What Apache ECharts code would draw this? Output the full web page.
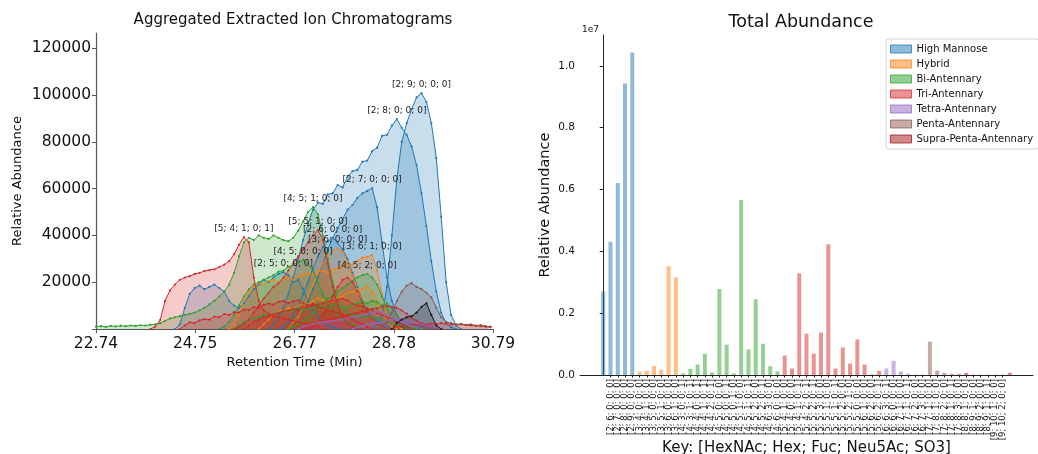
<!DOCTYPE html>
<html><head><meta charset="utf-8">
<script src="https://cdn.jsdelivr.net/npm/echarts@6/dist/echarts.min.js"></script>
<style>html,body{margin:0;padding:0;background:#fff}#c{width:1038px;height:454px}</style>
</head><body><div id="c"></div>
<script>
// ---------- Left chart: retention-time grid (min) ----------
const rt = [22.74,22.84,22.94,23.04,23.14,23.24,23.34,23.44,23.54,23.64,
23.74,23.84,23.94,24.04,24.14,24.24,24.34,24.44,24.54,24.64,
24.74,24.84,24.94,25.04,25.14,25.24,25.34,25.44,25.54,25.64,
25.74,25.84,25.94,26.04,26.14,26.24,26.34,26.44,26.54,26.64,
26.74,26.84,26.94,27.04,27.14,27.24,27.34,27.44,27.54,27.64,
27.74,27.84,27.94,28.04,28.14,28.24,28.34,28.44,28.54,28.64,
28.74,28.84,28.94,29.04,29.14,29.24,29.34,29.44,29.54,29.64,
29.74,29.84,29.94,30.04,30.14,30.24,30.34,30.44,30.54,30.64,
30.74];
const xTicks = [22.74, 24.75, 26.77, 28.78, 30.79];
const yTicks = [0, 20000, 40000, 60000, 80000, 100000, 120000];

// each XIC: values starting at an index of rt
const xic_2_5_0_0_0 = [0,2000,9000,15000,17500,18500,17000,18000,19000,17500,16000,12000,10000,9000,11000,14000,17000,19000,21000,20000,22000,23500,24300,23000,20000,21000,17000,12000,8000,5000,3000,1500,800,0];
const xic_2_6_0_0_0 = [0,1000,3000,6000,10000,15000,20000,26000,31000,35000,37500,38900,37000,34000,30000,24000,18000,12000,8000,5000,3000,1500,600,0];
const xic_2_7_0_0_0 = [0,3000,5000,8000,12000,17000,22000,28000,34000,39000,43000,47000,51000,53000,56000,58000,59000,60200,52000,37000,22000,12000,6000,3000,1000,0];
const xic_2_8_0_0_0 = [0,2000,5000,9000,15000,22000,30000,38000,45000,51000,54000,53500,57500,58000,61500,60500,65000,67500,68000,71500,72000,76000,77500,82500,83000,87000,89700,86000,83000,78000,70000,58000,44000,29000,16000,7000,2500,800,0];
const xic_2_9_0_0_0 = [0,2000,6000,18000,40000,64000,80000,88000,94000,99000,100800,97000,88000,73000,48000,20000,6000,1500,0];
const xic_3_6_0_0_0 = [0,3000,5000,9000,14000,19000,24000,28000,31000,33500,34600,33000,29000,23000,17000,11000,7000,4000,2000,800,0];
const xic_3_6_1_0_0 = [0,2000,6000,12000,16000,18000,19500,19000,20500,21000,20000,21500,22000,21000,22500,23000,24000,23000,24500,25000,24000,25500,26000,27000,28000,27500,29000,30500,30800,31600,25000,15000,6000,2500,1000,0];
const xic_hyb_low = [0,2000,4000,6000,7500,8000,9000,8500,10000,11000,10500,12000,13000,12500,11000,12000,13500,14000,15500,16000,15000,17000,18000,16000,12000,7000,3000,1000,0];
const xic_4_5_1_0_0 = [1000,1200,900,1300,1100,1400,1200,1500,1300,1600,1500,1800,2000,2500,3500,4500,5000,5500,6000,6500,7000,8000,9000,10500,12000,14000,16000,19000,24000,31000,37000,39000,38000,40000,39000,38500,40000,39000,38000,37500,39000,42000,46000,50000,52100,49000,40000,30000,20000,13000,9000,7000,6000,5500,5000,5500,5000,4500,4000,3000,2500,2000,1500,1000,800,500,0];
const xic_4_5_0_0_0 = [0,1000,3000,6000,10000,14000,17000,19000,20000,21000,22000,23000,24500,25000,26500,27500,28500,29500,28000,25000,20000,15000,11000,8000,6000,4000,3000,2000,1000,0];
const xic_4_5_2_0_0 = [0,1000,2000,3500,5000,7000,9000,11000,13000,14500,16000,17500,19000,20500,22000,23000,23500,22000,19000,14000,9000,5000,3000,1500,500,0];
const xic_bi_low = [0,1500,3000,4000,4500,5000,6000,5500,6500,7000,8000,7500,8500,9000,8000,8500,9500,10000,9000,9500,10500,10000,9000,9500,10500,11000,11500,11000,12000,11500,10000,11000,9000,6000,3000,1500,500,0];
const xic_5_4_1_0_1 = [0,1000,3800,12000,16500,19000,21000,22000,22600,23500,24000,24800,25200,25500,26500,27500,29000,32000,36000,39300,37000,22000,12000,8000,6500,5500,5000,4500,4000,3500,3000,2500,2000,1500,1000,0];
const xic_5_5_1_0_0 = [0,1000,2000,4000,7000,10000,13000,15500,18000,19500,22000,25000,28000,31000,34000,37000,40000,42300,38000,28000,18000,10000,5000,2500,1200,500,0];
const xic_tri_a = [0,1000,3000,6000,10000,14000,18000,21000,22000,20000,16000,11000,7000,4000,2000,1000,0];
const xic_tri_b = [0,1500,2800,2600,3700,4200,4000,5300,5100,6400,6000,7200,7000,8300,8100,9400,9000,10300,10900,10400,11600,12000,11000,11800,12300,11000,10200,10700,9300,9100,7800,7600,6800,6100,4800,4200,2900,2100,900,0];
const xic_tri_c = [0,1500,3200,3900,5100,5400,6200,6800,7700,7900,8600,8100,9200,9400,10100,10600,10900,11700,12100,12300,13000,12200,10800,10100,9600,8800,8100,6900,6100,4900,4100,2900,2100,900,0];
const xic_tri_d = [0,1000,2100,2900,3600,3900,4600,4900,5700,5900,6600,6900,7700,7900,8600,8800,9600,9900,9400,9100,7900,6600,4900,3600,2400,1600,900,500,0];
const xic_tri_e = [0,800,1200,1500,1800,2000,2200,2000,2300,2100,2500,2200,2000,1800,2000,1600,1500,1300,1200,1000,800];
const xic_tet_a = [0,1000,1500,2000,2600,3000,3300,3500,3900,4000,4600,5000,5400,6100,6400,7000,7500,7100,6000,5100,3900,3000,2000,1200,600,0];
const xic_tet_b = [0,800,1300,1700,2300,2500,3100,3400,3900,4000,3800,3400,3100,2400,2000,1400,1000,500,0];
const xic_pen_a = [0,1000,3000,7000,12000,16000,18500,19600,18000,17000,15500,13500,9000,5000,3000,2500,2000,2200,1800,2000,1500,1700,1200,1000];
const xic_sup_a = [0,2500,4000,5000,5500,7000,9500,11000,6000,1500,0];

// ---------- Right chart ----------
const groupNames = ['High Mannose','Hybrid','Bi-Antennary','Tri-Antennary','Tetra-Antennary','Penta-Antennary','Supra-Penta-Antennary'];
const glycanKeys = ['[2; 5; 0; 0; 0]','[2; 6; 0; 0; 0]','[2; 7; 0; 0; 0]','[2; 8; 0; 0; 0]','[2; 9; 0; 0; 0]',
'[3; 4; 0; 0; 0]','[3; 4; 1; 0; 0]','[3; 5; 0; 0; 0]','[3; 5; 1; 0; 0]','[3; 6; 0; 0; 0]','[3; 6; 1; 0; 0]',
'[4; 3; 0; 0; 1]','[4; 3; 1; 0; 1]','[4; 4; 0; 0; 1]','[4; 4; 1; 0; 1]','[4; 4; 2; 0; 1]','[4; 5; 0; 0; 0]','[4; 5; 0; 0; 1]','[4; 5; 0; 1; 0]','[4; 5; 1; 0; 0]','[4; 5; 1; 0; 1]','[4; 5; 2; 0; 0]','[4; 5; 2; 0; 1]','[4; 6; 3; 0; 0]','[4; 6; 0; 0; 0]',
'[5; 4; 1; 0; 0]','[5; 4; 0; 0; 0]','[5; 4; 1; 0; 1]','[5; 4; 2; 0; 1]','[5; 5; 2; 0; 1]','[5; 5; 3; 0; 0]','[5; 5; 1; 0; 0]','[5; 5; 1; 0; 1]','[5; 5; 2; 0; 0]','[5; 5; 2; 1; 0]','[5; 5; 0; 0; 0]','[5; 6; 1; 0; 0]','[5; 6; 2; 0; 0]','[5; 6; 2; 0; 1]',
'[6; 6; 3; 0; 1]','[6; 6; 0; 0; 0]','[6; 7; 1; 0; 0]','[6; 7; 1; 0; 1]','[6; 7; 2; 0; 0]','[6; 7; 3; 0; 0]',
'[7; 7; 1; 0; 0]','[7; 8; 1; 0; 0]','[7; 8; 2; 0; 0]','[7; 8; 1; 0; 1]','[7; 8; 3; 0; 0]',
'[8; 8; 1; 0; 0]','[8; 9; 1; 0; 0]','[8; 9; 2; 0; 0]','[8; 9; 1; 0; 1]','[9; 10; 1; 0; 0]','[9; 10; 2; 0; 0]','[9; 10; 1; 0; 1]'];
const hmAbund = [2.70e6, 4.31e6, 6.21e6, 9.43e6, 1.043e7];
const hybridAbund = [1.1e5, 1.4e5, 3.0e5, 1.7e5, 3.52e6, 3.16e6];
const biAbund = [5e4, 2.0e5, 3.4e5, 6.9e5, 8e4, 2.78e6, 9.8e5, 5e4, 5.66e6, 8.3e5, 2.45e6, 1.01e6, 2.8e5, 1.2e5];
const triAbund = [6.3e5, 2.1e5, 3.29e6, 1.34e6, 6.9e5, 1.37e6, 4.23e6, 2.1e5, 8.9e5, 3.7e5, 1.15e6, 3.4e5, 2e4, 1.4e5];
const tetraAbund = [2.1e5, 4.6e5, 1.1e5, 4e4, 1e4, 1e4];
const pentaAbund = [1.08e6, 1.4e5, 7e4, 4e4, 4e4];
const supraAbund = [7e4, 1e4, 1e4, 1e4, 1e4, 1e4, 7e4];
const rightYTicks = [0, 2e6, 4e6, 6e6, 8e6, 1e7];

// ---------- styling ----------
const lineColors = ['#1f77b4','#ff7f0e','#2ca02c','#d62728','#9467bd','#8c564b','#111111'];
const barRGB = [[31,119,180],[255,127,14],[44,160,44],[214,39,40],[148,103,189],[140,86,75],[160,20,20]];
const FONT = 'DejaVu Sans';

const xicList = [
  {name:'[2; 5; 0; 0; 0]', g:0, s:16, v:xic_2_5_0_0_0, lab:true},
  {name:'[2; 6; 0; 0; 0]', g:0, s:37, v:xic_2_6_0_0_0, lab:true},
  {name:'[2; 7; 0; 0; 0]', g:0, s:39, v:xic_2_7_0_0_0, lab:true},
  {name:'[2; 8; 0; 0; 0]', g:0, s:35, v:xic_2_8_0_0_0, lab:true},
  {name:'[2; 9; 0; 0; 0]', g:0, s:56, v:xic_2_9_0_0_0, lab:true},
  {name:'[3; 6; 0; 0; 0]', g:1, s:39, v:xic_3_6_0_0_0, lab:true},
  {name:'[3; 6; 1; 0; 0]', g:1, s:27, v:xic_3_6_1_0_0, lab:true},
  {name:'hyb-low', g:1, s:33, v:xic_hyb_low, lab:false},
  {name:'[4; 5; 1; 0; 0]', g:2, s:0, v:xic_4_5_1_0_0, lab:true},
  {name:'[4; 5; 0; 0; 0]', g:2, s:25, v:xic_4_5_0_0_0, lab:true},
  {name:'[4; 5; 2; 0; 0]', g:2, s:39, v:xic_4_5_2_0_0, lab:true},
  {name:'bi-low', g:2, s:28, v:xic_bi_low, lab:false},
  {name:'[5; 4; 1; 0; 1]', g:3, s:11, v:xic_5_4_1_0_1, lab:true},
  {name:'[5; 5; 1; 0; 0]', g:3, s:28, v:xic_5_5_1_0_0, lab:true},
  {name:'tri-a', g:3, s:43, v:xic_tri_a, lab:false},
  {name:'tri-b', g:3, s:17, v:xic_tri_b, lab:false},
  {name:'tri-c', g:3, s:30, v:xic_tri_c, lab:false},
  {name:'tri-d', g:3, s:42, v:xic_tri_d, lab:false},
  {name:'tri-e', g:3, s:60, v:xic_tri_e, lab:false},
  {name:'tet-a', g:4, s:41, v:xic_tet_a, lab:false},
  {name:'tet-b', g:4, s:52, v:xic_tet_b, lab:false},
  {name:'pen-a', g:5, s:57, v:xic_pen_a, lab:false},
  {name:'sup-a', g:6, s:60, v:xic_sup_a, lab:false}
];

const series = [];
xicList.forEach(d => {
  const c = lineColors[d.g];
  const s = {
    type:'line', name:d.name, xAxisIndex:0, yAxisIndex:0, silent:true,
    data: d.v.map((y,k) => [rt[d.s + k], y]),
    symbol:'circle', symbolSize:2.2, showSymbol:true,
    lineStyle:{width:1, color:c}, itemStyle:{color:c},
    areaStyle:{color:c, opacity:0.24}
  };
  if (d.lab) {
    s.markPoint = {
      symbol:'circle', symbolSize:1, silent:true,
      itemStyle:{color:'rgba(0,0,0,0)'},
      data:[{type:'max', valueDim:'y', name:d.name}],
      label:{show:true, position:'top', distance:3, formatter:d.name, color:'#222', fontSize:9, fontFamily:FONT}
    };
  }
  series.push(s);
});

const groupVals = [hmAbund, hybridAbund, biAbund, triAbund, tetraAbund, pentaAbund, supraAbund];
let offset = 0;
const legendData = [];
groupVals.forEach((vals, g) => {
  const [r,gg,b] = barRGB[g];
  const fill = `rgba(${r},${gg},${b},0.5)`;
  const data = vals.map((v,k) => [offset + k, v]);
  offset += vals.length;
  series.push({
    type:'bar', name:groupNames[g], xAxisIndex:1, yAxisIndex:1, silent:true,
    data, barWidth:4, barGap:'-100%', itemStyle:{color:fill}
  });
  legendData.push({name:groupNames[g], itemStyle:{color:fill, borderColor:`rgba(${r},${gg},${b},0.75)`, borderWidth:1}});
});
const keyIdx = glycanKeys.map((k,i) => i);

const option = {
  animation:false,
  backgroundColor:'#fff',
  textStyle:{fontFamily:FONT},
  grid:[
    {left:96, top:33, width:397, height:296, outerBoundsMode:'none', containLabel:false},
    {left:580, top:35, width:453, height:340, outerBoundsMode:'none', containLabel:false}
  ],
  xAxis:[
    {gridIndex:0, type:'value', min:22.74, max:30.79, splitLine:{show:false},
     axisLine:{onZero:false, lineStyle:{color:'#555', width:1.2}},
     axisTick:{customValues:xTicks, length:4, lineStyle:{color:'#555'}},
     axisLabel:{customValues:xTicks, formatter:v=>v.toFixed(2), fontSize:15.5, color:'#111', margin:7, fontFamily:FONT},
     name:'Retention Time (Min)', nameLocation:'middle', nameGap:27, nameMoveOverlap:false,
     nameTextStyle:{fontSize:13, color:'#111', fontFamily:FONT}},
    {gridIndex:1, type:'value', min:-3.2, max:59.2, splitLine:{show:false},
     axisLine:{onZero:false, lineStyle:{color:'#222', width:1}},
     axisTick:{customValues:keyIdx, length:2.5, lineStyle:{color:'#222'}},
     axisLabel:{customValues:keyIdx, formatter:v=>glycanKeys[v], rotate:90, fontSize:8.5, color:'#111', margin:4, fontFamily:FONT},
     name:'Key: [HexNAc; Hex; Fuc; Neu5Ac; SO3]', nameLocation:'middle', nameGap:66, nameMoveOverlap:false,
     nameTextStyle:{fontSize:15, color:'#111', fontFamily:FONT}}
  ],
  yAxis:[
    {gridIndex:0, type:'value', min:0, max:126500, splitLine:{show:false},
     axisLine:{show:true, lineStyle:{color:'#555', width:1.2}},
     axisTick:{show:true, customValues:yTicks, length:4, lineStyle:{color:'#555'}},
     axisLabel:{customValues:yTicks, formatter:v=> v===0 ? '' : String(v), fontSize:15.5, color:'#111', margin:5, fontFamily:FONT},
     name:'Relative Abundance', nameLocation:'middle', nameGap:72, nameRotate:90, nameMoveOverlap:false,
     nameTextStyle:{fontSize:13, color:'#111', fontFamily:FONT}},
    {gridIndex:1, type:'value', min:0, max:1.1e7, splitLine:{show:false},
     axisLine:{show:true, lineStyle:{color:'#222', width:1}},
     axisTick:{show:true, customValues:rightYTicks, length:3.5, lineStyle:{color:'#222'}},
     axisLabel:{customValues:rightYTicks, formatter:v=>(v/1e7).toFixed(1), fontSize:10.5, color:'#111', margin:5, fontFamily:FONT},
     name:'Relative Abundance', nameLocation:'middle', nameGap:27, nameRotate:90, nameMoveOverlap:false,
     nameTextStyle:{fontSize:14.5, color:'#111', fontFamily:FONT}}
  ],
  legend:{
    data:legendData, orient:'vertical', left:886, top:39,
    itemWidth:21, itemHeight:8, itemGap:3, icon:'rect',
    textStyle:{fontSize:10, color:'#111', lineHeight:12, fontFamily:FONT},
    backgroundColor:'#fff', borderColor:'#d4d4d4', borderWidth:1, borderRadius:3, padding:[4,6,4,4],
    selectedMode:false
  },
  graphic:[
    {type:'text', x:293, y:20, silent:true, style:{text:'Aggregated Extracted Ion Chromatograms', fontSize:15, fontFamily:FONT, fill:'#111', align:'center', verticalAlign:'middle', textAlign:'center', textVerticalAlign:'middle'}},
    {type:'text', x:801, y:22, silent:true, style:{text:'Total Abundance', fontSize:17.5, fontFamily:FONT, fill:'#111', align:'center', verticalAlign:'middle', textAlign:'center', textVerticalAlign:'middle'}},
    {type:'text', x:582, y:30, silent:true, style:{text:'1e7', fontSize:9, fontFamily:FONT, fill:'#111', align:'left', verticalAlign:'middle', textAlign:'left', textVerticalAlign:'middle'}}
  ],
  series
};
const chart = echarts.init(document.getElementById('c'), null, {renderer:'canvas'});
chart.setOption(option);
</script></body></html>
